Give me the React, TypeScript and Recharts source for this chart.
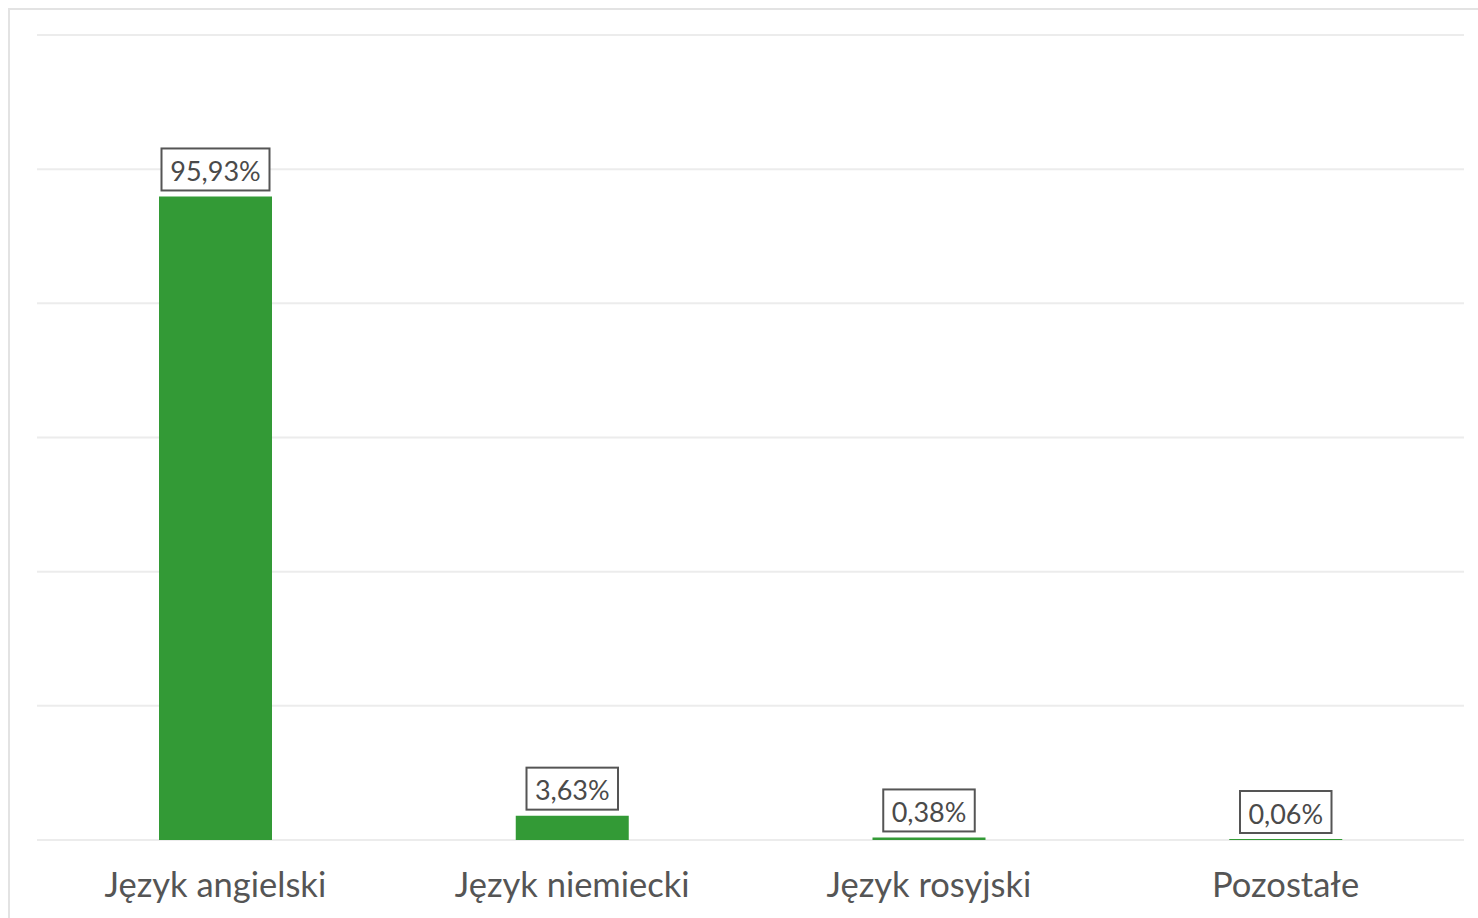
import { BarChart, Bar, XAxis, YAxis, CartesianGrid, LabelList } from 'recharts';

const categories = ['Język angielski', 'Język niemiecki', 'Język rosyjski', 'Pozostałe'];
const shares = [95.93, 3.63, 0.38, 0.06];
const yTicks = [0, 20, 40, 60, 80, 100, 120];

const chartData = categories.map((name, i) => ({ name, share: shares[i] }));

const fmt = (v: number) => v.toFixed(2).replace('.', ',') + '%';

// boxed value label sitting just above each bar
const BoxLabel = (props: any) => {
  const { x, y, width, value } = props;
  const text = fmt(Number(value));
  const boxW = text.length * 16.5 + 9;
  const boxH = 42;
  const cx = x + width / 2;
  const bottom = y - 6;
  return (
    <g>
      <rect
        x={cx - boxW / 2}
        y={bottom - boxH}
        width={boxW}
        height={boxH}
        fill="#fff"
        stroke="#555"
        strokeWidth={2}
      />
      <text
        x={cx}
        y={bottom - boxH / 2 + 1}
        textAnchor="middle"
        dominantBaseline="central"
        fontSize={27}
        fontFamily="Lato, sans-serif"
        fill="#4a4a4a"
      >
        {text}
      </text>
    </g>
  );
};

export default function App() {
  return (
    <div
      style={{
        position: 'absolute',
        left: 8,
        top: 8,
        width: 1480,
        height: 930,
        borderLeft: '2px solid #e3e3e3',
        borderTop: '2px solid #e3e3e3',
        background: '#fff',
      }}
    >
      <BarChart
        width={1460}
        height={910}
        data={chartData}
        margin={{ top: 25, right: 6, left: 27, bottom: 0 }}
      >
        <CartesianGrid vertical={false} stroke="#ececec" strokeWidth={2} />
        <YAxis hide domain={[0, 120]} ticks={yTicks} />
        <XAxis
          dataKey="name"
          height={80}
          axisLine={false}
          tickLine={false}
          tickMargin={27}
          interval={0}
          tick={{ fontSize: 34.5, fontFamily: 'Lato, sans-serif', fill: '#555' }}
        />
        <Bar dataKey="share" fill="#339a36" barSize={113} minPointSize={1} isAnimationActive={false}>
          <LabelList dataKey="share" content={BoxLabel} />
        </Bar>
      </BarChart>
    </div>
  );
}
